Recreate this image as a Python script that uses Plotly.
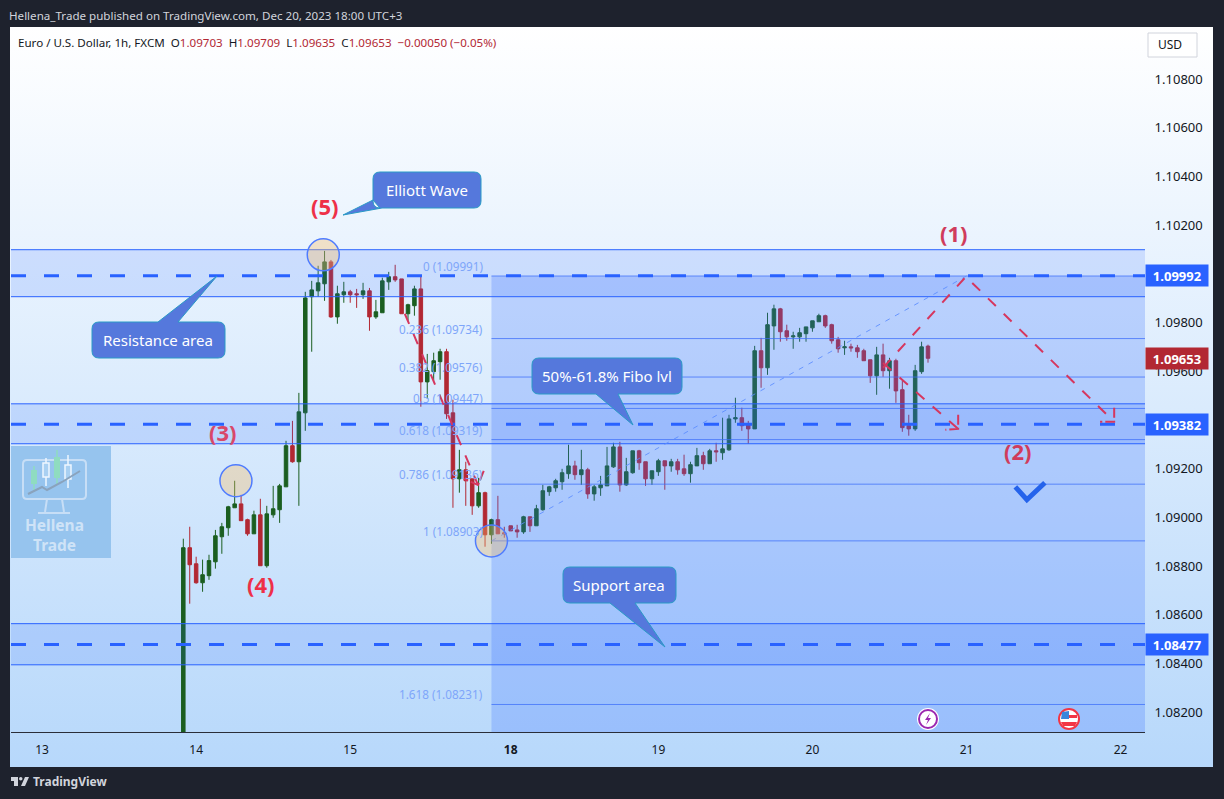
import plotly.graph_objects as go

bar_index = list(range(117))
opens = [1.08000,1.08875,1.08809,1.08731,1.08760,1.08817,1.08920,1.08957,1.09039,1.09055,
1.08990,1.08932,1.09010,1.08801,1.09010,1.09031,1.09125,1.09294,1.09228,1.09429,
1.09906,1.09930,1.09959,1.10049,1.09823,1.09914,1.09926,1.09918,1.09914,1.09930,
1.09823,1.09840,1.09967,1.09988,1.09979,1.09836,1.09869,1.09938,1.09556,1.09598,
1.09639,1.09680,1.09429,1.09158,1.09195,1.09158,1.09047,1.09101,1.08928,1.08990,
1.08936,1.08965,1.08948,1.08940,1.09002,1.08965,1.09031,1.09105,1.09121,1.09146,
1.09179,1.09211,1.09175,1.09195,1.09096,1.09121,1.09129,1.09207,1.09289,1.09133,
1.09183,1.09273,1.09228,1.09158,1.09187,1.09232,1.09211,1.09228,1.09199,1.09179,
1.09211,1.09253,1.09220,1.09273,1.09265,1.09277,1.09404,1.09409,1.09380,1.09363,
1.09684,1.09614,1.09786,1.09856,1.09766,1.09741,1.09741,1.09754,1.09778,1.09803,
1.09828,1.09791,1.09729,1.09696,1.09700,1.09696,1.09684,1.09647,1.09581,1.09667,
1.09602,1.09643,1.09524,1.09376,1.09363,1.09598,1.09703]
highs = [1.08912,1.08961,1.08838,1.08826,1.08846,1.08948,1.08977,1.09047,1.09150,1.09092,
1.08994,1.09027,1.09076,1.09047,1.09129,1.09137,1.09314,1.09396,1.09511,1.09926,
1.09971,1.10033,1.10094,1.10057,1.09951,1.09967,1.09934,1.09938,1.09963,1.09942,
1.09893,1.09984,1.10008,1.10037,1.09979,1.09877,1.09951,1.09992,1.09671,1.09676,
1.09692,1.09692,1.09483,1.09277,1.09228,1.09158,1.09162,1.09105,1.08994,1.09088,
1.08961,1.08965,1.08969,1.09006,1.09002,1.09051,1.09133,1.09129,1.09158,1.09199,
1.09298,1.09232,1.09277,1.09203,1.09133,1.09170,1.09289,1.09306,1.09310,1.09244,
1.09273,1.09277,1.09228,1.09191,1.09240,1.09232,1.09240,1.09240,1.09257,1.09228,
1.09285,1.09269,1.09281,1.09306,1.09409,1.09421,1.09491,1.09450,1.09396,1.09704,
1.09737,1.09840,1.09873,1.09860,1.09791,1.09762,1.09778,1.09782,1.09807,1.09836,
1.09832,1.09795,1.09741,1.09725,1.09713,1.09708,1.09692,1.09647,1.09700,1.09713,
1.09655,1.09651,1.09561,1.09421,1.09626,1.09721,1.09709]
lows = [1.08000,1.08645,1.08727,1.08694,1.08743,1.08789,1.08850,1.08924,1.09039,1.08986,
1.08924,1.08932,1.08801,1.08793,1.08998,1.08977,1.09125,1.09224,1.09047,1.09355,
1.09680,1.09906,1.09889,1.09819,1.09795,1.09881,1.09881,1.09860,1.09897,1.09766,
1.09815,1.09840,1.09934,1.09967,1.09836,1.09807,1.09828,1.09454,1.09487,1.09561,
1.09565,1.09404,1.09039,1.09101,1.09047,1.09010,1.09039,1.08879,1.08891,1.08932,
1.08916,1.08944,1.08916,1.08932,1.08940,1.08965,1.09027,1.09088,1.09105,1.09113,
1.09158,1.09154,1.09133,1.09076,1.09068,1.09088,1.09129,1.09203,1.09105,1.09129,
1.09179,1.09195,1.09129,1.09133,1.09170,1.09113,1.09187,1.09175,1.09170,1.09142,
1.09211,1.09195,1.09220,1.09228,1.09236,1.09273,1.09388,1.09355,1.09302,1.09363,
1.09532,1.09585,1.09688,1.09721,1.09725,1.09692,1.09721,1.09721,1.09762,1.09803,
1.09778,1.09713,1.09676,1.09667,1.09680,1.09655,1.09643,1.09552,1.09503,1.09577,
1.09528,1.09470,1.09351,1.09335,1.09355,1.09589,1.09635]
closes = [1.08875,1.08805,1.08731,1.08764,1.08822,1.08924,1.08961,1.09043,1.09055,1.08986,
1.08932,1.09010,1.08801,1.09014,1.09035,1.09129,1.09294,1.09228,1.09433,1.09901,
1.09934,1.09963,1.10049,1.09823,1.09918,1.09926,1.09914,1.09914,1.09930,1.09823,
1.09844,1.09971,1.09988,1.09975,1.09836,1.09873,1.09938,1.09556,1.09602,1.09643,
1.09680,1.09425,1.09158,1.09195,1.09150,1.09047,1.09101,1.08928,1.08990,1.08932,
1.08932,1.08944,1.08940,1.09002,1.08965,1.09035,1.09109,1.09125,1.09150,1.09183,
1.09211,1.09175,1.09195,1.09096,1.09125,1.09133,1.09211,1.09289,1.09133,1.09187,
1.09273,1.09224,1.09158,1.09191,1.09232,1.09211,1.09228,1.09195,1.09179,1.09216,
1.09253,1.09220,1.09273,1.09269,1.09281,1.09404,1.09409,1.09376,1.09363,1.09684,
1.09614,1.09791,1.09856,1.09762,1.09741,1.09745,1.09758,1.09782,1.09807,1.09828,
1.09786,1.09725,1.09692,1.09700,1.09696,1.09680,1.09643,1.09581,1.09667,1.09602,
1.09643,1.09519,1.09368,1.09363,1.09602,1.09700,1.09653]

date_ticks = [-22, 2, 26, 51, 74, 98, 122, 146]
date_labels = ["13", "14", "15", "<b>18</b>", "19", "20", "21", "22"]
price_ticks = [1.082, 1.084, 1.086, 1.088, 1.090, 1.092, 1.096, 1.098, 1.102, 1.104, 1.106, 1.108]
X_RANGE = [-26.84, 149.8]
Y_RANGE = [1.08118, 1.10985]

fib_levels = [1.09991, 1.09734, 1.09576, 1.09447, 1.09319, 1.09136, 1.08903, 1.08231]
fib_names = ["0", "0.236", "0.382", "0.5", "0.618", "0.786", "1", "1.618"]
fib_start_bar = 48
fib_end_bar = 122
zones = [(1.10099, 1.09906), (1.09466, 1.09302), (1.08563, 1.08394)]
levels = [1.09992, 1.09382, 1.08477]
last_close = 1.09653

circle_bars = [8.2, 21.8, 48]
circle_prices = [1.09150, 1.10078, 1.08903]
wave_labels = ["(5)", "(3)", "(4)", "(1)", "(2)"]
wave_bars = [22.1, 6.2, 12.1, 120.0, 130.0]
wave_prices = [1.10278, 1.09349, 1.08725, 1.10168, 1.09273]
wave_colors = ["#ee3048", "#d8486a", "#ee3048", "#d03c5c", "#d03c5c"]

drop_x = [34.5, 45.9]; drop_y = [1.09836, 1.09133]
drop_head_x = [46.8, 45.9, 43.7]; drop_head_y = [1.09191, 1.09133, 1.09158]
up_x = [109.0, 121.9, 145.0]; up_y = [1.09614, 1.09988, 1.09392]
up_head_x = [145.0, 145.0, 142.8]; up_head_y = [1.09450, 1.09392, 1.09392]
small_x = [109.0, 120.7]; small_y = [1.09634, 1.09363]
small_head_x = [120.7, 120.7, 118.7]; small_head_y = [1.09421, 1.09363, 1.09359]
check_x = [129.6, 131.4, 134.2]; check_y = [1.09125, 1.09072, 1.09142]

GREEN = "#1b5e20"; RED = "#b22833"; BLUE = "#2962ff"; INK = "#131722"
FONT = "Noto Sans"

fig = go.Figure()
fig.add_trace(go.Scatter(
    x=[10, 1213, 1213, 10, 10], y=[27, 27, 767, 767, 27], mode="lines", line=dict(width=0),
    fill="toself", fillgradient=dict(type="vertical", colorscale=[[0, "#b7d8fb"], [1, "#ffffff"]]),
    hoverinfo="skip", showlegend=False, xaxis="x", yaxis="y"))
fig.add_trace(go.Candlestick(
    x=bar_index, open=opens, high=highs, low=lows, close=closes,
    increasing=dict(line=dict(color=GREEN, width=1), fillcolor=GREEN),
    decreasing=dict(line=dict(color=RED, width=1), fillcolor=RED),
    whiskerwidth=0, showlegend=False, xaxis="x2", yaxis="y2"))

shapes = []
def data_shape(**kw):
    shapes.append(dict(xref="x2", yref="y2", layer="above", **kw))
def page_shape(**kw):
    shapes.append(dict(xref="x", yref="y", layer="above", **kw))
def poly(xs, ys):
    return "M" + " L".join(f"{a} {b}" for a, b in zip(xs, ys))

data_shape(type="rect", x0=fib_start_bar, x1=X_RANGE[1], y0=fib_levels[0], y1=Y_RANGE[0],
           fillcolor="rgba(55,112,255,0.25)", line=dict(width=0))
for lo_hi in zones:
    data_shape(type="rect", x0=X_RANGE[0], x1=X_RANGE[1], y0=lo_hi[0], y1=lo_hi[1],
               fillcolor="rgba(41,98,255,0.15)", line=dict(width=0))
for lv in fib_levels:
    data_shape(type="line", x0=fib_start_bar, x1=X_RANGE[1], y0=lv, y1=lv,
               line=dict(color="rgba(60,110,250,0.75)", width=1))
for lo_hi in zones:
    for v in lo_hi:
        data_shape(type="line", x0=X_RANGE[0], x1=X_RANGE[1], y0=v, y1=v, line=dict(color=BLUE, width=1))
for lv in levels:
    data_shape(type="line", x0=X_RANGE[0], x1=X_RANGE[1], y0=lv, y1=lv,
               line=dict(color=BLUE, width=3, dash="15px,18px"))
data_shape(type="line", x0=fib_start_bar, x1=fib_end_bar, y0=fib_levels[6], y1=fib_levels[0],
           line=dict(color="rgba(90,140,255,0.85)", width=1, dash="5px,6px"))
for bx, by in zip(circle_bars, circle_prices):
    cx = 11 + (bx - X_RANGE[0]) / (X_RANGE[1] - X_RANGE[0]) * 1134
    cy = 34 + (Y_RANGE[1] - by) / (Y_RANGE[1] - Y_RANGE[0]) * 698
    page_shape(type="circle", x0=cx - 16, x1=cx + 16, y0=cy - 16, y1=cy + 16,
               fillcolor="rgba(250,190,100,0.35)", line=dict(color="#4f7cff", width=1.5))
RD = dict(color="#d6365e", width=2)
for xs, ys in [(drop_x, drop_y), (up_x, up_y), (small_x, small_y)]:
    data_shape(type="path", path=poly(xs, ys), line=dict(dash="11px,11px", **RD))
for xs, ys in [(drop_head_x, drop_head_y), (up_head_x, up_head_y), (small_head_x, small_head_y)]:
    data_shape(type="path", path=poly(xs, ys), line=dict(dash="10px,3px", **RD))
data_shape(type="path", path=poly(check_x, check_y), line=dict(color="#2563eb", width=5))

def callout(x0, y0, x1, y1, top="", bottom="", left=""):
    r = 7
    body = (f"M{x0+r} {y0} {top} L{x1-r} {y0} Q{x1} {y0} {x1} {y0+r} L{x1} {y1-r} Q{x1} {y1} {x1-r} {y1} "
            f"{bottom} L{x0+r} {y1} Q{x0} {y1} {x0} {y1-r} {left} L{x0} {y0+r} Q{x0} {y0} {x0+r} {y0} Z")
    page_shape(type="path", path=body, fillcolor="#5578dc", line=dict(color="#2a9ac6", width=1))
callout(373, 172, 481, 208, bottom="L382 208 L343 215 L373 200")
callout(92, 322, 225, 358, top="L158 322 L217 276 L178 322")
callout(532, 358, 682, 394, bottom="L618 394 L633 425 L596 394")
callout(563, 567, 676, 603, bottom="L635 603 L665 647 L610 603")

page_shape(type="rect", x0=11, x1=111, y0=446, y1=558, fillcolor="#96c4ee", line=dict(width=0))
L = dict(color="#c7def6", width=2)
page_shape(type="path", path="M27 460 L82 460 Q86 460 86 464 L86 495 Q86 499 82 499 L27 499 Q23 499 23 495 L23 464 Q23 460 27 460 Z M47 499 L45 512 M62 499 L64 512 M38 513 L70 513", line=L)
page_shape(type="path", path="M34 466 L34 490 M57 450 L57 484", line=dict(color="#8fdcc0", width=1.5))
page_shape(type="path", path="M31 470 L37 470 L37 484 L31 484 Z M54 457 L60 457 L60 478 L54 478 Z", fillcolor="#8fdcc0", line=dict(width=0))
page_shape(type="path", path="M46 458 L46 486 M68 455 L68 488", line=dict(color="#eef6ff", width=1.5))
page_shape(type="path", path="M43 463 L49 463 L49 477 L43 477 Z M65 465 L71 465 L71 479 L65 479 Z", fillcolor="#a9d0f2", line=dict(color="#eef6ff", width=1.5))
page_shape(type="path", path="M28 494 L42 487 L47 490 L62 482 L80 471", line=dict(color="#8aa3bd", width=2))

page_shape(type="circle", x0=917, x1=939, y0=708, y1=730, fillcolor="#ffffff", line=dict(width=0))
page_shape(type="circle", x0=919, x1=937, y0=710, y1=728, fillcolor="#ffffff", line=dict(color="#9c27b0", width=2))
page_shape(type="path", path="M930 713 L925 720 L928 720 L926 725 L931 718 L928 718 Z", fillcolor="#9c27b0", line=dict(width=0))
page_shape(type="circle", x0=1059, x1=1079, y0=709, y1=729, fillcolor="#ffffff", line=dict(color="#f23645", width=2))
page_shape(type="path", path="M1062 712 L1069 711 L1069 719 L1061 719 Z", fillcolor="#3a86dc", line=dict(width=0))
page_shape(type="path", path="M1069 715 L1077 715 L1077 718 L1069 718 Z M1061 722 L1077 722 L1075 726 L1063 726 Z", fillcolor="#f23645", line=dict(width=0))

page_shape(type="path", path="M11 777 L18 777 L18 786 L14 786 L14 781 L11 781 Z M25 777 L29 777 L25 786 L21 786 Z", fillcolor="#d1d4dc", line=dict(width=0))
page_shape(type="circle", x0=19, x1=22.5, y0=777, y1=780.5, fillcolor="#d1d4dc", line=dict(width=0))
page_shape(type="rect", x0=1148, x1=1197, y0=33, y1=57, fillcolor="#ffffff", line=dict(color="#d1d4dc", width=1))

ann = []
def page_text(x, y, text, size, color, anchor="left", **kw):
    ann.append(dict(xref="x", yref="y", x=x, y=y, text=text, showarrow=False, xanchor=anchor, yanchor="middle",
                    font=dict(family=FONT, size=size, color=color), **kw))
page_text(7, 15, "Hellena_Trade published on TradingView.com, Dec 20, 2023 18:00 UTC+3", 11.6, "#d1d4dc")
page_text(16, 42, "Euro / U.S. Dollar, 1h, FXCM  O<span style='color:#b22833'>1.09703</span>  H<span style='color:#b22833'>1.09709</span>  L<span style='color:#b22833'>1.09635</span>  C<span style='color:#b22833'>1.09653</span>  <span style='color:#b22833'>−0.00050 (−0.05%)</span>", 11.6, INK)
page_text(1156, 44, "USD", 12, INK)
page_text(31, 781, "<b>TradingView</b>", 12, "#d1d4dc")
page_text(427, 190, "Elliott Wave", 15, "#ffffff", "center")
page_text(158, 340, "Resistance area", 15, "#ffffff", "center")
page_text(607, 376, "50%-61.8% Fibo lvl", 15, "#ffffff", "center")
page_text(619, 585, "Support area", 15, "#ffffff", "center")
page_text(54, 525, "<b>Hellena</b>", 15.5, "#cfe3f7", "center")
page_text(54, 545, "<b>Trade</b>", 15.5, "#cfe3f7", "center")

for name, lv in zip(fib_names, fib_levels):
    ann.append(dict(xref="x2", yref="y2", x=47.0, y=lv, yshift=10, text=f"{name} ({lv:.5f})", showarrow=False,
                    xanchor="right", yanchor="middle", font=dict(family=FONT, size=11.7, color="#7ea6fa")))
for t, bx, by, col in zip(wave_labels, wave_bars, wave_prices, wave_colors):
    ann.append(dict(xref="x2", yref="y2", x=bx, y=by, text=f"<b>{t}</b>", showarrow=False,
                    font=dict(family=FONT, size=22, color=col)))
for lv, col in zip(levels + [last_close], [BLUE, BLUE, BLUE, RED]):
    ann.append(dict(xref="x", yref="y2", x=1177, y=lv, text=f"<b>{lv:.5f}</b>", showarrow=False, width=60, height=19,
                    bgcolor=col, font=dict(family=FONT, size=13, color="#ffffff")))

fig.update_layout(
    width=1224, height=799, margin=dict(l=0, r=0, t=0, b=0), autosize=False,
    paper_bgcolor="#1e222d", plot_bgcolor="rgba(0,0,0,0)", showlegend=False, boxgap=0.22,
    hovermode=False, shapes=shapes, annotations=ann,
    xaxis=dict(domain=[0, 1], range=[0, 1224], visible=False, fixedrange=True),
    yaxis=dict(domain=[0, 1], range=[799, 0], visible=False, fixedrange=True),
    xaxis2=dict(domain=[11 / 1224, 1145 / 1224], range=X_RANGE, anchor="y2", rangeslider=dict(visible=False),
                tickmode="array", tickvals=date_ticks, ticktext=date_labels, showgrid=False, zeroline=False,
                showline=True, linecolor="#2a2e39", linewidth=1, ticks="outside", ticklen=7, tickcolor="rgba(0,0,0,0)",
                tickfont=dict(family=FONT, size=12, color=INK)),
    yaxis2=dict(domain=[67 / 799, 765 / 799], range=Y_RANGE, anchor="x2", side="right",
                tickmode="array", tickvals=price_ticks, ticktext=[f"{v:.5f}" for v in price_ticks],
                showgrid=False, zeroline=False, ticks="outside", ticklen=6, tickcolor="rgba(0,0,0,0)",
                tickfont=dict(family=FONT, size=13, color=INK)),
)
fig.write_html("out.html", config=dict(displayModeBar=False),
               post_script="document.body.style.margin='0';document.body.style.overflow='hidden';")
